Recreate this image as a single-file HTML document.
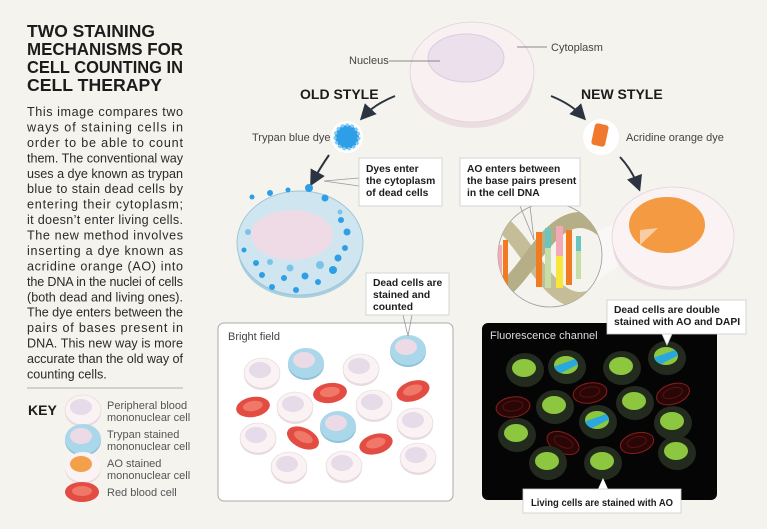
<!DOCTYPE html>
<html><head><meta charset="utf-8"><style>
html,body{margin:0;padding:0;background:#f4f3ee;}
svg{display:block;font-family:"Liberation Sans",sans-serif;}
</style></head><body>
<svg width="767" height="529" viewBox="0 0 767 529" xmlns="http://www.w3.org/2000/svg">
<defs>
<g id="pb">
 <ellipse cx="0" cy="2" rx="18" ry="15" fill="#e9dbe0"/>
 <ellipse cx="0" cy="0" rx="18" ry="15" fill="#faf2f3" stroke="#e2d6da" stroke-width="0.6"/>
 <ellipse cx="-2" cy="-3" rx="11" ry="8" fill="#e6dbe9"/>
</g>
<g id="bl">
 <ellipse cx="0" cy="2" rx="18" ry="15" fill="#8fc3da"/>
 <ellipse cx="0" cy="0" rx="18" ry="15" fill="#abd7ea"/>
 <ellipse cx="-2" cy="-3" rx="11" ry="8" fill="#ecdbe6"/>
</g>
<g id="rd">
 <ellipse cx="0" cy="0" rx="17" ry="10" fill="#e34c42"/>
 <ellipse cx="0" cy="-1" rx="10" ry="5" fill="#f07869"/>
</g>
<g id="fg">
 <ellipse cx="0" cy="0" rx="19" ry="17" fill="#222b1e"/>
 <ellipse cx="-1" cy="-2" rx="12" ry="9" fill="#8dc63f"/>
</g>
<clipPath id="nc"><ellipse cx="-1" cy="-2" rx="12" ry="9"/></clipPath>
<g id="fb">
 <ellipse cx="0" cy="0" rx="19" ry="17" fill="#222b1e"/>
 <ellipse cx="-1" cy="-2" rx="12" ry="9" fill="#8dc63f"/>
 <path d="M-14 0 L8 -8 L12 -3 L-10 8 Z" fill="#29a8e0" clip-path="url(#nc)"/>
</g>
<g id="fr">
 <ellipse cx="0" cy="0" rx="17" ry="10" fill="#2a0707" stroke="#8a1d1d" stroke-width="1"/>
 <ellipse cx="0" cy="-1" rx="10" ry="5" fill="none" stroke="#5a1010" stroke-width="1"/>
</g>
<clipPath id="dna"><circle cx="550" cy="255" r="52"/></clipPath>
<marker id="ah" markerWidth="8" markerHeight="8" refX="5" refY="4" orient="auto"><path d="M0 0 L8 4 L0 8 Z" fill="#2b3440"/></marker>
</defs>

<!-- Left text -->
<g font-weight="bold" font-size="17.5" fill="#1c1c1c">
<text x="27" y="37" textLength="128" lengthAdjust="spacingAndGlyphs">TWO STAINING</text>
<text x="27" y="55" textLength="156" lengthAdjust="spacingAndGlyphs">MECHANISMS FOR</text>
<text x="27" y="73" textLength="156" lengthAdjust="spacingAndGlyphs">CELL COUNTING IN</text>
<text x="27" y="91" textLength="135" lengthAdjust="spacingAndGlyphs">CELL THERAPY</text>
</g>
<g font-size="12.6" fill="#2a2a2a">
<text x="27" y="116" textLength="156">This image compares two</text>
<text x="27" y="131.4" textLength="156">ways of staining cells in</text>
<text x="27" y="146.9" textLength="156">order to be able to count</text>
<text x="27" y="162.3" textLength="156">them. The conventional way</text>
<text x="27" y="177.8" textLength="156">uses a dye known as trypan</text>
<text x="27" y="193.2" textLength="156">blue to stain dead cells by</text>
<text x="27" y="208.6" textLength="156">entering their cytoplasm;</text>
<text x="27" y="224.1" textLength="156">it doesn’t enter living cells.</text>
<text x="27" y="239.5" textLength="156">The new method involves</text>
<text x="27" y="255" textLength="156">inserting a dye known as</text>
<text x="27" y="270.4" textLength="156">acridine orange (AO) into</text>
<text x="27" y="285.8" textLength="156">the DNA in the nuclei of cells</text>
<text x="27" y="301.3" textLength="156">(both dead and living ones).</text>
<text x="27" y="316.7" textLength="156">The dye enters between the</text>
<text x="27" y="332.2" textLength="156">pairs of bases present in</text>
<text x="27" y="347.6" textLength="156">DNA. This new way is more</text>
<text x="27" y="363" textLength="156">accurate than the old way of</text>
<text x="27" y="378.5">counting cells.</text>
</g>
<line x1="27" y1="388" x2="183" y2="388" stroke="#c8c6c0" stroke-width="1.5"/>
<text x="28" y="415" font-weight="bold" font-size="14" fill="#1c1c1c">KEY</text>
<use href="#pb" x="83" y="410"/>
<use href="#bl" x="83" y="439"/>
<g transform="translate(83,467)"><ellipse cx="0" cy="2" rx="18" ry="15" fill="#e9dbe0"/><ellipse rx="18" ry="15" fill="#faf2f3"/><ellipse cx="-2" cy="-3" rx="11" ry="8" fill="#f4a04a"/></g>
<use href="#rd" x="82" y="492"/>
<g font-size="11" fill="#555">
<text x="107" y="409">Peripheral blood</text><text x="107" y="421">mononuclear cell</text>
<text x="107" y="438">Trypan stained</text><text x="107" y="450">mononuclear cell</text>
<text x="107" y="467">AO stained</text><text x="107" y="479">mononuclear cell</text>
<text x="107" y="496">Red blood cell</text>
</g>

<!-- Top big cell -->
<ellipse cx="472" cy="82" rx="61" ry="46" fill="#ecdde2"/>
<ellipse cx="472" cy="72" rx="62" ry="50" fill="#f9f0f2" stroke="#e0d3d8" stroke-width="0.8"/>
<ellipse cx="466" cy="58" rx="38" ry="24" fill="#ece0ec" stroke="#dccbe0" stroke-width="1"/>
<line x1="389" y1="61" x2="440" y2="61" stroke="#666" stroke-width="0.8"/>
<text x="349" y="64" font-size="11" fill="#444">Nucleus</text>
<line x1="517" y1="47" x2="547" y2="47" stroke="#666" stroke-width="0.8"/>
<text x="551" y="51" font-size="11" fill="#444">Cytoplasm</text>
<text x="300" y="99" font-size="14" font-weight="bold" fill="#1c1c1c">OLD STYLE</text>
<text x="581" y="99" font-size="14" font-weight="bold" fill="#1c1c1c">NEW STYLE</text>
<path d="M395 96 Q375 104 364 116" fill="none" stroke="#2b3440" stroke-width="2" marker-end="url(#ah)"/>
<path d="M551 96 Q571 104 582 116" fill="none" stroke="#2b3440" stroke-width="2" marker-end="url(#ah)"/>

<!-- trypan dye -->
<circle cx="347" cy="137" r="16" fill="#fff"/>
<circle cx="347" cy="137" r="12" fill="#2e9ee6" stroke="#7fcaf4" stroke-width="3" stroke-dasharray="3 2"/>
<text x="252" y="141" font-size="11" fill="#444">Trypan blue dye</text>
<path d="M329 155 Q320 168 313 181" fill="none" stroke="#2b3440" stroke-width="2" marker-end="url(#ah)"/>
<!-- orange dye -->
<circle cx="601" cy="137" r="18" fill="#fff"/>
<rect x="593" y="124" width="14" height="22" rx="3" fill="#f0792e" transform="rotate(12 600 135)"/>
<text x="626" y="141" font-size="11" fill="#444">Acridine orange dye</text>
<path d="M620 157 Q632 170 638 186" fill="none" stroke="#2b3440" stroke-width="2" marker-end="url(#ah)"/>

<!-- Blue dead cell -->
<ellipse cx="300" cy="250" rx="62" ry="48" fill="#a8cfe0"/>
<ellipse cx="300" cy="243" rx="63" ry="52" fill="#cfe6f1" stroke="#9ec6d8" stroke-width="1"/>
<ellipse cx="292" cy="235" rx="41" ry="25" fill="#eedbe6"/>
<g fill="#2e9ee6">
<circle cx="309" cy="188" r="4"/><circle cx="325" cy="198" r="3.5"/><circle cx="341" cy="220" r="3"/><circle cx="347" cy="232" r="3.5"/><circle cx="345" cy="248" r="3"/><circle cx="338" cy="258" r="3.5"/><circle cx="333" cy="270" r="4"/><circle cx="318" cy="282" r="3"/><circle cx="305" cy="276" r="3.5"/><circle cx="296" cy="290" r="3"/><circle cx="284" cy="278" r="3"/><circle cx="272" cy="287" r="3"/><circle cx="262" cy="275" r="3"/><circle cx="256" cy="263" r="3"/><circle cx="244" cy="250" r="2.5"/><circle cx="252" cy="197" r="2.5"/><circle cx="270" cy="193" r="3"/><circle cx="288" cy="190" r="2.5"/>
</g>
<g fill="#7cc2e8"><circle cx="320" cy="265" r="4"/><circle cx="290" cy="268" r="3.5"/><circle cx="270" cy="262" r="3"/><circle cx="248" cy="232" r="3"/><circle cx="340" cy="212" r="2.5"/></g>
<!-- callout dyes -->
<line x1="359" y1="178" x2="324" y2="181" stroke="#999" stroke-width="0.8"/>
<line x1="359" y1="186" x2="324" y2="181" stroke="#999" stroke-width="0.8"/>
<rect x="359" y="158" width="83" height="48" fill="#fff" stroke="#ccc" stroke-width="0.8"/>
<g font-size="10.3" font-weight="bold" fill="#1c1c1c"><text x="366" y="172">Dyes enter</text><text x="366" y="184">the cytoplasm</text><text x="366" y="196">of dead cells</text></g>

<!-- DNA -->
<polygon points="590,235 640,212 640,250 585,290" fill="#fff" opacity="0.45"/>
<circle cx="550" cy="255" r="52" fill="#f4f3ee" stroke="#999" stroke-width="0.8"/>
<g clip-path="url(#dna)">
 <path d="M480 215 C520 215 540 300 580 300 S640 215 660 215" fill="none" stroke="#c4bd98" stroke-width="16"/>
 <path d="M480 300 C520 300 540 220 580 220 S640 300 660 300" fill="none" stroke="#b5ae87" stroke-width="16"/>
 <rect x="503" y="240" width="5" height="50" fill="#f27b22"/>
 <rect x="536" y="232" width="6" height="55" fill="#f27b22"/>
 <rect x="545" y="228" width="6" height="20" fill="#6cc4c0"/><rect x="545" y="248" width="6" height="40" fill="#c6dea8"/>
 <rect x="556" y="226" width="7" height="30" fill="#f4a9b6"/><rect x="556" y="256" width="7" height="32" fill="#f8e63a"/>
 <rect x="566" y="230" width="6" height="55" fill="#f27b22"/>
 <rect x="576" y="236" width="5" height="15" fill="#6cc4c0"/><rect x="576" y="251" width="5" height="28" fill="#c6dea8"/>
 <rect x="498" y="245" width="4" height="30" fill="#f4a9b6"/>
</g>
<line x1="520" y1="206" x2="534" y2="240" stroke="#999" stroke-width="0.8"/>
<line x1="530" y1="206" x2="534" y2="240" stroke="#999" stroke-width="0.8"/>
<rect x="460" y="158" width="120" height="48" fill="#fff" stroke="#ccc" stroke-width="0.8"/>
<g font-size="10.3" font-weight="bold" fill="#1c1c1c"><text x="467" y="172">AO enters between</text><text x="467" y="184">the base pairs present</text><text x="467" y="196">in the cell DNA</text></g>

<!-- orange cell -->
<ellipse cx="673" cy="246" rx="60" ry="44" fill="#ecdde2"/>
<ellipse cx="673" cy="237" rx="61" ry="50" fill="#fbf2f3" stroke="#e0d3d8" stroke-width="0.8"/>
<ellipse cx="667" cy="225" rx="38" ry="28" fill="#f39a42"/>
<polygon points="640,230 658,228 640,245" fill="#fff" opacity="0.5"/>

<!-- Bright field -->
<rect x="218" y="323" width="235" height="178" rx="6" fill="#fff" stroke="#aaa" stroke-width="1"/>
<text x="228" y="340" font-size="11" fill="#444">Bright field</text>
<use href="#pb" x="262" y="373"/>
<use href="#bl" x="306" y="363"/>
<use href="#pb" x="361" y="369"/>
<use href="#bl" x="408" y="350"/>
<use href="#rd" transform="translate(330,393) rotate(-8)"/>
<use href="#rd" transform="translate(413,391) rotate(-18)"/>
<use href="#rd" transform="translate(253,407) rotate(-10)"/>
<use href="#pb" x="295" y="407"/>
<use href="#pb" x="374" y="405"/>
<use href="#bl" x="338" y="426"/>
<use href="#pb" x="415" y="423"/>
<use href="#pb" x="258" y="438"/>
<use href="#rd" transform="translate(303,438) rotate(25)"/>
<use href="#rd" transform="translate(376,444) rotate(-15)"/>
<use href="#pb" x="289" y="467"/>
<use href="#pb" x="344" y="466"/>
<use href="#pb" x="418" y="458"/>
<!-- dead cells callout -->
<line x1="403" y1="315" x2="408" y2="336" stroke="#999" stroke-width="0.8"/>
<line x1="412" y1="315" x2="408" y2="336" stroke="#999" stroke-width="0.8"/>
<rect x="366" y="273" width="83" height="42" fill="#fff" stroke="#ccc" stroke-width="0.8"/>
<g font-size="10.3" font-weight="bold" fill="#1c1c1c"><text x="373" y="286">Dead cells are</text><text x="373" y="298">stained and</text><text x="373" y="310">counted</text></g>

<!-- Fluorescence -->
<rect x="482" y="323" width="235" height="177" rx="6" fill="#050505"/>
<text x="490" y="339" font-size="11" fill="#ddd">Fluorescence channel</text>
<use href="#fg" x="525" y="370"/>
<use href="#fb" x="567" y="367"/>
<use href="#fg" x="622" y="368"/>
<use href="#fb" x="667" y="358"/>
<use href="#fr" transform="translate(590,393) rotate(-10)"/>
<use href="#fr" transform="translate(673,394) rotate(-18)"/>
<use href="#fr" transform="translate(513,407) rotate(-8)"/>
<use href="#fg" x="555" y="407"/>
<use href="#fg" x="635" y="403"/>
<use href="#fb" x="598" y="422"/>
<use href="#fg" x="673" y="423"/>
<use href="#fg" x="517" y="435"/>
<use href="#fr" transform="translate(563,443) rotate(25)"/>
<use href="#fr" transform="translate(637,443) rotate(-15)"/>
<use href="#fg" x="548" y="463"/>
<use href="#fg" x="603" y="463"/>
<use href="#fg" x="677" y="453"/>
<polygon points="662,334 672,334 667,345" fill="#fff" stroke="#ccc" stroke-width="0.8"/>
<rect x="607" y="300" width="139" height="34" fill="#fff" stroke="#ccc" stroke-width="0.8"/>
<g font-size="10.3" font-weight="bold" fill="#1c1c1c"><text x="614" y="313">Dead cells are double</text><text x="614" y="325">stained with AO and DAPI</text></g>
<polygon points="598,489 608,489 603,478" fill="#fff"/>
<rect x="523" y="489" width="158" height="24" fill="#fff" stroke="#ccc" stroke-width="0.8"/>
<text x="531" y="506" font-size="10.3" font-weight="bold" fill="#1c1c1c" textLength="142" lengthAdjust="spacingAndGlyphs">Living cells are stained with AO</text>
</svg>
</body></html>
